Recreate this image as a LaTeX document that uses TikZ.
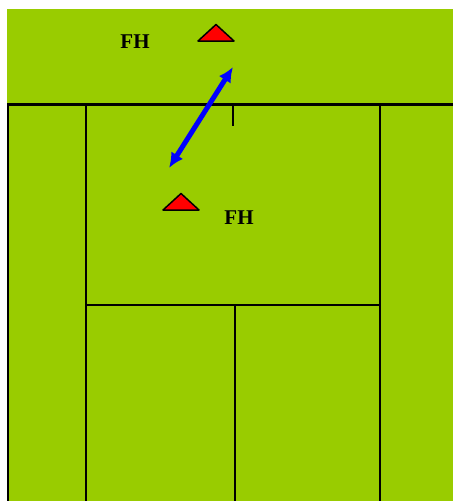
\documentclass[tikz,border=0pt]{standalone}
\usepackage{fontspec}
\setmainfont{Liberation Serif}
\usetikzlibrary{arrows.meta}
\definecolor{court}{HTML}{99CC00}
\begin{document}
\begin{tikzpicture}[x=1pt,y=-1pt,>=Latex]
  \tikzstyle{line}=[draw=black,line width=2pt]
  \tikzstyle{cone}=[draw=black,fill=red,line width=1.5pt,line join=round]
  \tikzstyle{tag}=[font=\bfseries\fontsize{21}{21}\selectfont]
  \useasboundingbox (0,0) rectangle (453,501);
  \fill[court] (7,9) rectangle (453,501);

  % court lines
  \draw[line,line width=3pt] (7,104) -- (453,104);
  \draw[line] (8,104) -- (8,501);
  \draw[line] (86,104) -- (86,501);
  \draw[line] (380,104) -- (380,501);
  \draw[line] (86,305) -- (380,305);
  \draw[line] (235,305) -- (235,501);
  \draw[line] (233,104) -- (233,126);

  % cones
  \draw[cone] (198,41) -- (216,24.5) -- (234,41) -- cycle;
  \draw[cone] (163,210) -- (181,193.5) -- (199,210) -- cycle;
  \node[tag] (fhtop) at (135,42) {FH};
  \node[tag] (fhbot) at (239,218) {FH};

  % movement
  \coordinate (near) at (169,168);
  \coordinate (far) at (233,67);
  \draw[<->,blue,line width=5pt,>={Latex[length=15pt,width=14pt]}] (near) -- (far);
\end{tikzpicture}
\end{document}
